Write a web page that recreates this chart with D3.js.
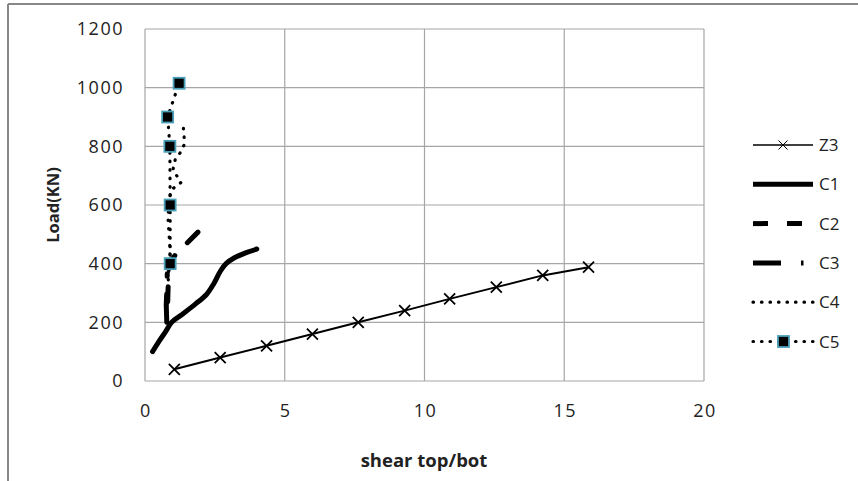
<!DOCTYPE html>
<html>
<head>
<meta charset="utf-8">
<script src="https://cdn.jsdelivr.net/npm/d3@7"></script>
<style>
  body { margin: 0; background: #fff; }
  text { font-family: "Open Sans", "Noto Sans", sans-serif; fill: #222; }
</style>
</head>
<body>
<svg id="chart" width="858" height="481"></svg>
<script>
// data
var seriesNames = ["Z3", "C1", "C2", "C3", "C4", "C5"];

var z3Shear = [1.05, 2.69, 4.35, 5.99, 7.63, 9.29, 10.9, 12.57, 14.23, 15.87];
var z3Load  = [40, 80, 120, 160, 200, 240, 280, 320, 360, 388];

var c1Shear = [0.27, 0.5, 0.75, 0.95, 1.3, 1.8, 2.2, 2.45, 2.7, 2.9, 3.2, 3.6, 4.0];
var c1Load  = [100, 135, 170, 200, 225, 262, 295, 330, 375, 400, 420, 437, 450];

var c2Shear = [0.8, 0.82, 0.86, 1.1, 1.5, 1.92];
var c2Load  = [210, 300, 400, 432, 470, 510];

var c3Shear = [0.78, 0.76, 0.79, 0.8];
var c3Load  = [200, 260, 330, 390];

var c4Shear = [0.8, 0.78, 0.82, 0.85, 0.9, 0.86, 0.82, 0.88, 0.92, 1.29, 1.0, 1.08, 1.25, 1.4, 1.4, 1.37];
var c4Load  = [200, 260, 320, 380, 440, 500, 560, 620, 650, 677, 720, 754, 777, 805, 834, 865];

var c5Shear = [0.9, 0.9, 0.89, 0.81, 1.22];
var c5Load  = [400, 600, 800, 900, 1015];

var xTicks = [0, 5, 10, 15, 20];
var yTicks = [0, 200, 400, 600, 800, 1000, 1200];

var svg = d3.select("#chart");

// outer frame (only top and left show)
svg.append("line").attr("x1", 8).attr("x2", 858).attr("y1", 4).attr("y2", 4)
  .attr("stroke", "#888").attr("stroke-width", 2);
svg.append("line").attr("x1", 8).attr("x2", 8).attr("y1", 4).attr("y2", 481)
  .attr("stroke", "#888").attr("stroke-width", 2);

// scales
var x = d3.scaleLinear().domain([0, 20]).range([145, 704]);
var y = d3.scaleLinear().domain([0, 1200]).range([381, 29]);

// grid
svg.append("g").selectAll("line").data(xTicks).enter().append("line")
  .attr("x1", d => x(d)).attr("x2", d => x(d))
  .attr("y1", y(0)).attr("y2", y(1200))
  .attr("stroke", "#a6a6a6").attr("stroke-width", 1.2);
svg.append("g").selectAll("line").data(yTicks).enter().append("line")
  .attr("x1", x(0)).attr("x2", x(20))
  .attr("y1", d => y(d)).attr("y2", d => y(d))
  .attr("stroke", "#a6a6a6").attr("stroke-width", 1.2);

// tick labels
svg.append("g").selectAll("text").data(yTicks).enter().append("text")
  .attr("x", 124).attr("y", d => y(d)).attr("dy", "0.36em")
  .attr("text-anchor", "end").attr("font-size", 18).attr("letter-spacing", 1.5)
  .text(d => d);
svg.append("g").selectAll("text").data(xTicks).enter().append("text")
  .attr("x", d => x(d) + 1).attr("y", 417)
  .attr("text-anchor", "middle").attr("font-size", 18).attr("letter-spacing", 1.5)
  .text(d => d);

// axis titles
svg.append("text").attr("x", 424).attr("y", 467)
  .attr("text-anchor", "middle").attr("font-size", 18.5).attr("font-weight", "bold")
  .text("shear top/bot");
svg.append("text").attr("transform", "translate(59,205) rotate(-90)")
  .attr("text-anchor", "middle").attr("font-size", 16.5).attr("font-weight", "bold")
  .text("Load(KN)");

// series
var line = d3.line().x(d => x(d[0])).y(d => y(d[1]));
var smooth = d3.line().x(d => x(d[0])).y(d => y(d[1])).curve(d3.curveCatmullRom);
function pts(xs, ys) { return xs.map((v, i) => [v, ys[i]]); }

var styles = {
  Z3: { w: 2, dash: null, cap: "butt" },
  C1: { w: 5, dash: null, cap: "round" },
  C2: { w: 5, dash: "15,18", cap: "round" },
  C3: { w: 5, dash: "28,18,2.5,18", cap: "round" },
  C4: { w: 3.2, dash: "0.5,8", cap: "round" },
  C5: { w: 3.2, dash: "0.5,8", cap: "round" }
};
var seriesData = {
  Z3: pts(z3Shear, z3Load),
  C1: pts(c1Shear, c1Load),
  C2: pts(c2Shear, c2Load),
  C3: pts(c3Shear, c3Load),
  C4: pts(c4Shear, c4Load),
  C5: pts(c5Shear, c5Load)
};

var plot = svg.append("g");
seriesNames.forEach(function(name) {
  var s = styles[name];
  var p = plot.append("path").datum(seriesData[name])
    .attr("d", name === "C1" ? smooth : line)
    .attr("fill", "none").attr("stroke", "#000")
    .attr("stroke-width", s.w)
    .attr("stroke-linecap", s.cap)
    .attr("stroke-linejoin", "round")
    .attr("stroke-dasharray", s.dash);
  if (name === "C2") {
    // make the last stretch land on a dash
    var L = p.node().getTotalLength();
    var off = 33 - ((L - 16) % 33);
    p.attr("stroke-dashoffset", off);
  }
});

// markers
function cross(g, cx, cy, r, w) {
  g.append("path")
    .attr("d", "M" + (cx - r) + "," + (cy - r) + "L" + (cx + r) + "," + (cy + r) +
               "M" + (cx - r) + "," + (cy + r) + "L" + (cx + r) + "," + (cy - r))
    .attr("stroke", "#000").attr("stroke-width", w).attr("fill", "none");
}
var mk = svg.append("g");
seriesData.Z3.forEach(d => cross(mk, x(d[0]), y(d[1]), 5.5, 1.8));
mk.selectAll("rect.c5").data(seriesData.C5).enter().append("rect")
  .attr("class", "c5")
  .attr("x", d => x(d[0]) - 5.5).attr("y", d => y(d[1]) - 5.5)
  .attr("width", 11).attr("height", 11)
  .attr("fill", "#000").attr("stroke", "#4a9fb8").attr("stroke-width", 1.8);

// legend
var legend = svg.append("g");
seriesNames.forEach(function(name, i) {
  var ly = 145 + i * 39.3;
  var s = styles[name];
  legend.append("line").attr("x1", 753).attr("x2", 813).attr("y1", ly).attr("y2", ly)
    .attr("stroke", "#000").attr("stroke-width", name === "Z3" ? 1.5 : s.w)
    .attr("stroke-linecap", name === "C4" || name === "C5" ? "round" : "butt")
    .attr("stroke-dasharray", name === "C2" ? "15,19" : name === "C3" ? "28,20,2.5,20" : s.dash);
  if (name === "Z3") cross(legend, 783, ly, 4.5, 1);
  if (name === "C5") {
    legend.append("rect").attr("x", 778).attr("y", ly - 5.5).attr("width", 11).attr("height", 11)
      .attr("fill", "#000").attr("stroke", "#4a9fb8").attr("stroke-width", 1.8);
  }
  legend.append("text").attr("x", 819).attr("y", ly).attr("dy", "0.36em")
    .attr("font-size", 17).text(name);
});
</script>
</body>
</html>
